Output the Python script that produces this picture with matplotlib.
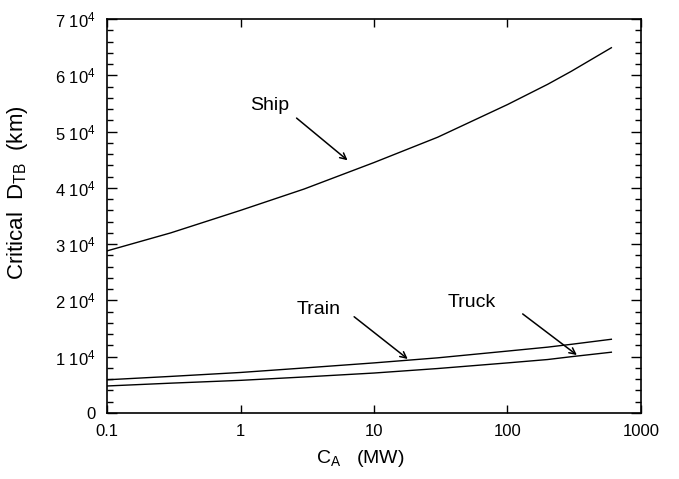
import matplotlib
matplotlib.use("Agg")
import matplotlib.pyplot as plt
from matplotlib.ticker import FixedLocator, NullLocator, MultipleLocator

plt.rcParams['font.family'] = ['Liberation Sans', 'DejaVu Sans']
plt.rcParams['mathtext.default'] = 'regular'

# capacity C_A (MW)
cap = [0.1, 0.3, 1, 3, 10, 30, 100, 200, 300, 600]
# critical distance D_TB (km)
ship = [28800, 32000, 36000, 39800, 44500, 49000, 54800, 58400, 60700, 64900]
train = [5900, 6500, 7200, 8000, 8900, 9800, 11000, 11700, 12200, 13100]
truck = [4800, 5300, 5800, 6400, 7100, 7900, 8900, 9500, 10000, 10800]

yticks = [0, 10000, 20000, 30000, 40000, 50000, 60000, 70000]
ylabels = ["0"] + [f"{i} 10$^4$" for i in range(1, 8)]
xticks = [0.1, 1, 10, 100, 1000]
xlabels = ["0.1", "1", "10", "100", "1000"]

fig = plt.figure(figsize=(6.79, 4.79), dpi=100)
ax = fig.add_axes([0.1576, 0.1378, 0.7864, 0.8225])

for ys in (ship, train, truck):
    ax.plot(cap, ys, color='black', lw=1.0)

ax.set_xscale('log')
ax.set_xlim(0.1, 1000)
ax.set_ylim(0, 70000)

ax.xaxis.set_major_locator(FixedLocator(xticks))
ax.xaxis.set_minor_locator(NullLocator())
ax.set_xticklabels(xlabels)
ax.yaxis.set_major_locator(FixedLocator(yticks))
ax.yaxis.set_minor_locator(MultipleLocator(2000))
ax.set_yticklabels(ylabels)

ax.tick_params(which='both', direction='in', top=True, right=True,
               labelsize=12, width=1.0)
ax.tick_params(axis='y', which='major', length=7, pad=8)
ax.tick_params(axis='y', which='minor', length=4)
ax.tick_params(axis='x', which='major', length=6, pad=8)
for s in ax.spines.values():
    s.set_linewidth(1.2)

ax.set_xlabel("C$_A$   (MW)", fontsize=14)
ax.xaxis.set_label_coords(0.474, -0.09)
ax.set_ylabel("Critical  D$_{TB}$  (km)", fontsize=16)
ax.yaxis.set_label_coords(-0.145, 0.56)

arrow = dict(arrowstyle='->', lw=1.1, color='black', shrinkA=0, shrinkB=0,
             mutation_scale=11)
# annotations
ax.text(1.18, 53800, "Ship", fontsize=14, va='baseline')
ax.annotate("", xy=(6.34, 44900), xytext=(2.63, 52400), arrowprops=arrow)
ax.text(2.65, 17600, "Train", fontsize=14, va='baseline')
ax.annotate("", xy=(17.9, 9600), xytext=(7.1, 17100), arrowprops=arrow)
ax.text(35.8, 18800, "Truck", fontsize=14, va='baseline')
ax.annotate("", xy=(331, 10300), xytext=(130, 17600), arrowprops=arrow)

fig.savefig("out.png", dpi=100)
